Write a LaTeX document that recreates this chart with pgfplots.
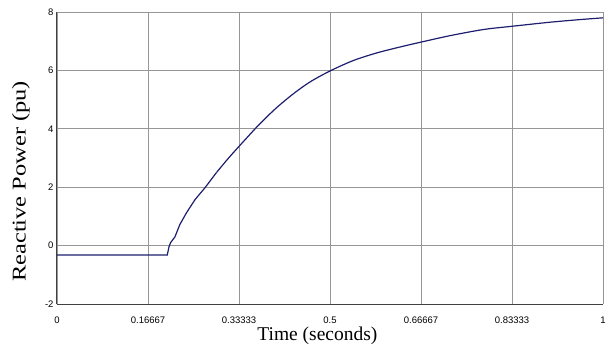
\documentclass[border=0pt]{standalone}
\usepackage{pgfplots}
\pgfplotsset{compat=1.18}
\usepackage{graphicx}
\usepackage{fontspec}
\setmainfont{Liberation Serif}
\newfontfamily\ticksans{Liberation Sans}
\definecolor{curve}{RGB}{30,30,110}
\definecolor{gridgray}{RGB}{150,150,150}
\begin{document}
\begin{tikzpicture}
\path[use as bounding box] (0,0) rectangle (611pt,349pt);
\begin{axis}[
  at={(57pt,45pt)}, anchor=south west,
  scale only axis, width=546pt, height=292pt,
  xmin=0, xmax=1, ymin=-2, ymax=8,
  xtick={0,0.166667,0.333333,0.5,0.666667,0.833333,1},
  xticklabels={0,0.16667,0.33333,0.5,0.66667,0.83333,1},
  ytick={-2,0,2,4,6,8},
  major tick length=0pt,
  grid=major,
  major grid style={gridgray, line width=0.9pt},
  axis lines=left,
  axis line style={-, black!75, line width=1pt},
  /pgf/number format/assume math mode=true,
  tick label style={font=\ticksans\fontsize{9.5}{10}\selectfont},
  xticklabel style={yshift=-9pt},
  xlabel={Time (seconds)},
  ylabel={\scalebox{1.25}[1]{Reactive Power (pu)}},
  label style={font=\fontsize{19.5}{20}\selectfont},
  xlabel style={at={(axis description cs:0.477,-0.11)}, anchor=center},
  ylabel style={at={(axis description cs:-0.066,0.42)}, anchor=center},
  clip=false,
]
\addplot[curve, line width=1.2pt] coordinates {
(0,-0.32) (0.202,-0.32) (0.205,-0.05) (0.208,0.10) (0.216,0.30)
(0.225,0.72) (0.237,1.12) (0.253,1.58) (0.271,1.98) (0.292,2.50)
};
\addplot[curve, line width=1.2pt, smooth, tension=0.5] coordinates {
(0.292,2.50)
(0.312,2.95) (0.332,3.37) (0.352,3.78) (0.372,4.18) (0.402,4.72)
(0.433,5.20) (0.463,5.60) (0.500,5.98) (0.543,6.34) (0.586,6.60)
(0.628,6.80) (0.667,6.97) (0.720,7.19) (0.781,7.40) (0.833,7.51)
(0.903,7.65) (0.958,7.74) (1.000,7.80)
};
\end{axis}
\end{tikzpicture}
\end{document}
